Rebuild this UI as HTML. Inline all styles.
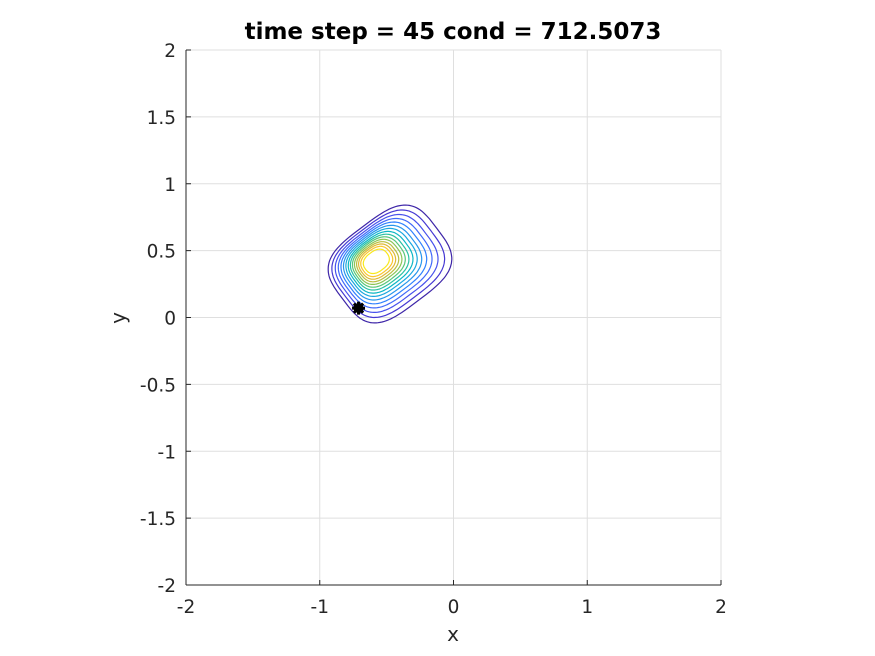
<!DOCTYPE html>
<html><head><meta charset="utf-8"><style>
html,body{margin:0;padding:0;background:#fff;}
svg{display:block;font-family:"DejaVu Sans","Liberation Sans",sans-serif;}
</style></head><body>
<svg id="chart" width="875" height="656" viewBox="0 0 875 656" xmlns="http://www.w3.org/2000/svg">
<rect width="875" height="656" fill="#fff"/>
<g id="grid"></g>
<g id="contours"></g>
<g id="axes"></g>
<text x="453" y="39" text-anchor="middle" font-size="23" font-weight="bold" fill="#000">time step = 45 cond = 712.5073</text>
<text x="453" y="641" text-anchor="middle" font-size="20" fill="#262626">x</text>
<text x="0" y="0" transform="translate(125,318) rotate(-90)" text-anchor="middle" font-size="20" fill="#262626">y</text>
</svg>
<script>
const xTicks = [-2,-1,0,1,2];
const yTicks = [-2,-1.5,-1,-0.5,0,0.5,1,1.5,2];
const xTickLabels = ["-2","-1","0","1","2"];
const yTickLabels = ["-2","-1.5","-1","-0.5","0","0.5","1","1.5","2"];
// contour levels (outer to inner): center x, center y, semi-axis a, semi-axis b (data units)
const levelCx = [-0.475,-0.488,-0.500,-0.511,-0.521,-0.530,-0.538,-0.545,-0.552,-0.558,-0.563,-0.567,-0.571,-0.574,-0.577];
const levelCy = [0.400,0.402,0.404,0.406,0.408,0.410,0.412,0.413,0.414,0.415,0.416,0.417,0.418,0.419,0.420];
const levelA = [0.440,0.403,0.369,0.338,0.310,0.284,0.260,0.237,0.215,0.195,0.176,0.157,0.139,0.121,0.100];
const levelB = [0.345,0.317,0.291,0.268,0.247,0.227,0.208,0.190,0.173,0.157,0.141,0.126,0.111,0.095,0.076];
const levelColors = ["#3e26a8","#4538d3","#4751ec","#4069f9","#2f81fe","#2796ec","#1ba8df","#0cb7c4","#2ac1a3","#58c779","#8bc556","#b9be3f","#dfb937","#f9c62d","#f8e81b"];
const markerX = [-0.71];
const markerY = [0.07];

const X0=186, X1=721, Y0=585, Y1=50;
const sx = v => X0 + (v+2)/4*(X1-X0);
const sy = v => Y0 - (v+2)/4*(Y0-Y1);
const NS="http://www.w3.org/2000/svg";
const mk=(t,a,p)=>{const e=document.createElementNS(NS,t);for(const k in a)e.setAttribute(k,a[k]);p.appendChild(e);return e;};
const grid=document.getElementById('grid'), axes=document.getElementById('axes'), cont=document.getElementById('contours');

xTicks.forEach((t,i)=>{
  const l=mk('line',{x1:sx(t),x2:sx(t),y1:Y1,y2:Y0,stroke:'#dfdfdf','stroke-width':1},grid);
  
  
  const tk=mk('line',{x1:sx(t),x2:sx(t),y1:Y0,y2:Y0-5,stroke:'#262626','stroke-width':1},axes);
  
  
  const tx=mk('text',{x:sx(t),y:Y0+28,'text-anchor':'middle','font-size':18.5,fill:'#262626'},axes);
  tx.textContent=xTickLabels[i];
  
  
});
yTicks.forEach((t,i)=>{
  const l=mk('line',{x1:X0,x2:X1,y1:sy(t),y2:sy(t),stroke:'#dfdfdf','stroke-width':1},grid);
  
  
  const tk=mk('line',{x1:X0,x2:X0+5,y1:sy(t),y2:sy(t),stroke:'#262626','stroke-width':1},axes);
  
  
  const tx=mk('text',{x:X0-10,y:sy(t)+7,'text-anchor':'end','font-size':18.5,fill:'#262626'},axes);
  tx.textContent=yTickLabels[i];
  
  
});
const xa=mk('line',{x1:X0,x2:X1,y1:Y0,y2:Y0,stroke:'#262626','stroke-width':1},axes);


const ya=mk('line',{x1:X0,x2:X0,y1:Y0,y2:Y1,stroke:'#262626','stroke-width':1},axes);



const rot=37*Math.PI/180;
levelCx.forEach((cx,i)=>{
  const a=levelA[i], b=levelB[i], n=2.2+1.2*(a/levelA[0]);
  let d='';
  for(let k=0;k<=120;k++){
    const th=k/120*2*Math.PI, c=Math.cos(th), s=Math.sin(th);
    const u=a*Math.sign(c)*Math.pow(Math.abs(c),2/n), v=b*Math.sign(s)*Math.pow(Math.abs(s),2/n);
    const x=cx+u*Math.cos(rot)-v*Math.sin(rot), y=levelCy[i]+u*Math.sin(rot)+v*Math.cos(rot);
    d+=(k?'L':'M')+sx(x).toFixed(1)+' '+sy(y).toFixed(1);
  }
  const p=mk('path',{d:d+'Z',fill:'none',stroke:levelColors[i],'stroke-width':1.2},cont);
  
  
});
markerX.forEach((mx,i)=>{
  const g=mk('g',{transform:`translate(${sx(mx)},${sy(markerY[i])})`},cont);
  
  
  for(let k=0;k<4;k++){
    mk('line',{x1:-6.5,y1:0,x2:6.5,y2:0,stroke:'#000','stroke-width':3,transform:`rotate(${k*45})`},g);
  }
  mk('circle',{r:5,fill:'#000'},g);
});
</script>
</body></html>
